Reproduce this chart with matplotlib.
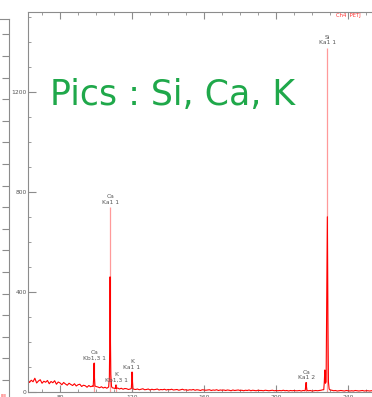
import numpy as np
import matplotlib.pyplot as plt
from matplotlib.ticker import MultipleLocator

# fond continu du spectre, un point par unite de 62 a 253
fond_x = np.arange(62, 254)
fond_y = [52, 38, 47, 41, 55, 36, 44, 49, 35, 43,
          39, 46, 33, 42, 37, 45, 31, 40, 36, 29,
          38, 32, 27, 35, 30, 26, 33, 24, 29, 31,
          22, 27, 25, 19, 26, 21, 24, 18, 22, 20,
          17, 21, 16, 19, 15, 18, 14, 17, 15, 13,
          16, 12, 15, 11, 14, 13, 10, 12, 14, 11,
          10, 12, 9, 11, 13, 9, 10, 12, 8, 11,
          9, 10, 12, 8, 10, 9, 11, 8, 10, 9,
          11, 8, 9, 10, 7, 9, 11, 8, 9, 7,
          9, 8, 10, 7, 9, 8, 6, 9, 8, 7,
          8, 9, 6, 8, 7, 9, 6, 8, 7, 8,
          6, 8, 7, 5, 8, 6, 7, 8, 6, 7,
          5, 7, 6, 8, 5, 7, 6, 5, 7, 6,
          6, 5, 7, 6, 5, 6, 7, 5, 6, 5,
          6, 5, 7, 5, 6, 4, 6, 5, 6, 5,
          5, 6, 4, 6, 5, 7, 5, 6, 4, 5,
          6, 5, 6, 7, 9, 10, 11, 9, 8, 7,
          5, 6, 4, 5, 6, 5, 4, 6, 5, 4,
          5, 4, 6, 5, 4, 5, 6, 4, 5, 5,
          4, 5]

# pics mesures (position, coups)
pic_ca_kb = [(98.4, 22), (98.7, 60), (98.9, 115), (99.1, 58), (99.4, 24)]
pic_ca_ka = [(107.0, 20), (107.4, 60), (107.6, 196), (107.8, 460), (108.0, 200),
             (108.2, 70), (108.6, 22)]
pic_k_kb = [(110.7, 14), (111.0, 28), (111.3, 14)]
pic_k_ka = [(119.6, 14), (119.9, 55), (120.0, 80), (120.2, 45), (120.5, 13)]
pic_ca_ka2 = [(216.2, 6), (216.5, 25), (216.7, 38), (216.9, 20), (217.2, 6)]
pic_si = [(226.5, 9), (226.8, 40), (227.1, 88), (227.4, 35), (227.8, 40),
          (228.1, 310), (228.5, 700), (228.8, 300), (229.1, 40), (229.5, 12)]
pics = [pic_ca_kb, pic_ca_ka, pic_k_kb, pic_k_ka, pic_ca_ka2, pic_si]

# marqueurs des raies identifiees
raies_nom = ['Si\nKa1 1', 'Ca\nKa1 1', 'Ca\nKb1,3 1', 'K\nKb1,3 1', 'K\nKa1 1', 'Ca\nKa1 2']
raies_pos = [228.5, 107.8, 98.9, 111.1, 120.0, 216.7]
raies_haut = [1376, 740, 118, 30, 80, 38]

# assemblage fond + pics
px = list(fond_x)
py = list(fond_y)
for pic in pics:
    x0, x1 = pic[0][0], pic[-1][0]
    garde = [(a, b) for a, b in zip(px, py) if not (x0 <= a <= x1)]
    px = [a for a, b in garde] + [a for a, b in pic]
    py = [b for a, b in garde] + [b for a, b in pic]
ordre = np.argsort(px)
px = np.array(px, dtype=float)[ordre]
py = np.array(py, dtype=float)[ordre]

W, H = 372, 397
fig = plt.figure(figsize=(W / 100, H / 100), dpi=100)
gris = '#8c8c8c'

# axe residuel a gauche
ax2 = fig.add_axes([0, 0, 8.5 / W, (H - 19) / H])
ax2.set_xlim(0, 1)
ax2.set_ylim(0, H - 19)
for s in ['left', 'bottom']:
    ax2.spines[s].set_visible(False)
for s in ['right', 'top']:
    ax2.spines[s].set_color(gris)
    ax2.spines[s].set_linewidth(0.8)
ax2.set_xticks([])
ax2.yaxis.tick_right()
ax2.set_yticks(np.arange(17, H - 34, 21.6))
ax2.tick_params(axis='y', direction='in', length=5, color=gris, labelright=False)

# spectre principal
ax = fig.add_axes([28 / W, 5 / H, (W - 28) / W, (392 - 11.5) / H])
ax.set_xlim(62.2, 253.3)
ax.set_ylim(0, 1520)

ax.vlines(raies_pos, 0, raies_haut, color='#ff9a9a', lw=0.9, zorder=1)
ax.plot(px, py, color='#ff0000', lw=0.8, zorder=2)

for nom, xp, h in zip(raies_nom, raies_pos, raies_haut):
    ax.annotate(nom, (xp, h), xytext=(0, 1.5), textcoords='offset points',
                ha='center', va='bottom', fontsize=4.3, color='#555555',
                linespacing=1.1)

ax.spines['right'].set_visible(False)
for s in ['left', 'top', 'bottom']:
    ax.spines[s].set_color(gris)
    ax.spines[s].set_linewidth(0.8)

ax.yaxis.set_major_locator(MultipleLocator(400))
ax.yaxis.set_minor_locator(MultipleLocator(100))
ax.xaxis.set_major_locator(MultipleLocator(40))
ax.xaxis.set_minor_locator(MultipleLocator(10))
ax.tick_params(which='both', direction='in', color=gris, top=True,
               labelsize=4.3, labelcolor='#555555')
ax.tick_params(axis='y', which='major', length=5.5, pad=1)
ax.tick_params(axis='y', which='minor', length=2.5)
ax.tick_params(axis='x', which='major', length=5, pad=2)
ax.tick_params(axis='x', which='minor', length=2.5)

fig.text(50 / W, 1 - 105 / H, 'Pics : Si, Ca, K', fontsize=25,
         color='#1fa84a', ha='left', va='baseline')
fig.text(336 / W, 1 - 17 / H, 'Ch4  PETJ', fontsize=3.8, color='#ff3030',
         ha='left', va='baseline')
fig.text(0 / W, 1 - 399 / H, 'Ill', fontsize=5, color='#ff2020',
         ha='left', va='baseline')

fig.savefig('out.png', dpi=100)
